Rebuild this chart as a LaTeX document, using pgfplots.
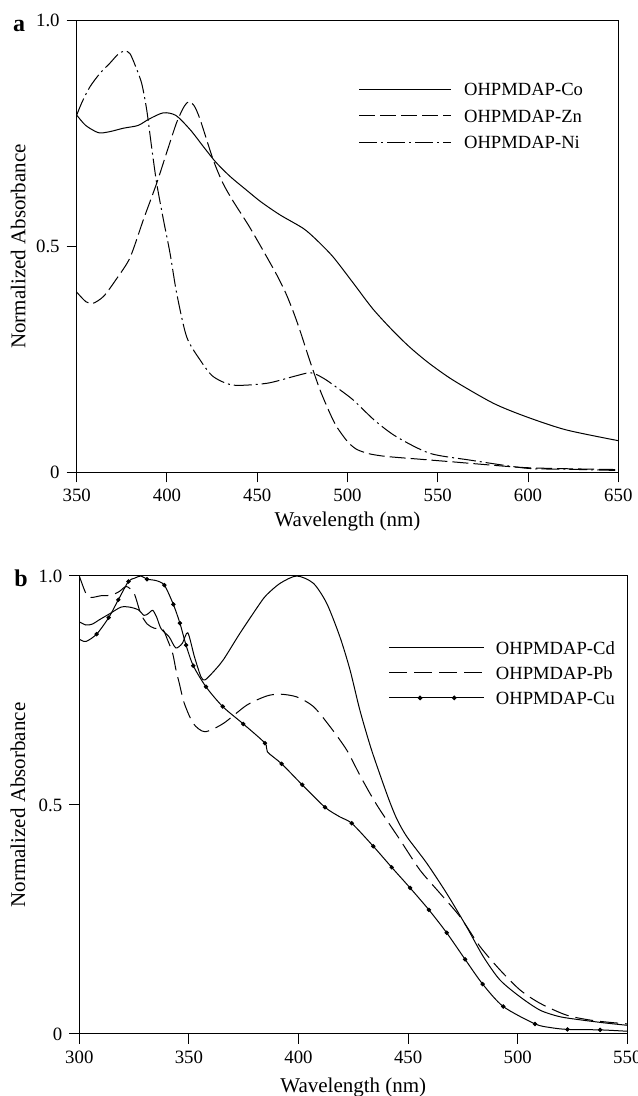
\documentclass[border=0pt]{standalone}
\usepackage{fontspec}
\setmainfont{Liberation Serif}
\usepackage{pgfplots}
\pgfplotsset{compat=1.18}
\begin{document}
\begin{tikzpicture}
\path[use as bounding box] (0pt,0pt) rectangle (318.5pt,548pt);
\pgfplotsset{
 myax/.style={
  scale only axis,
  axis line style={black, line width=0.5pt},
  every tick/.style={black, line width=0.5pt},
  tick align=outside,
  tick pos=left,
  major tick length=5pt,
  ymin=0, ymax=1,
  ytick={0,0.5,1}, yticklabels={0,0.5,1.0},
  /pgf/number format/assume math mode=true,
  tick label style={font=\fontsize{9.4}{10}\selectfont},
  label style={font=\fontsize{10.5}{12}\selectfont},
  legend style={draw=none, fill=none, font=\fontsize{9.3}{11}\selectfont, inner sep=0pt,
     row sep=6.8pt, column sep=6.2pt, nodes={inner sep=0pt, text height=6.5pt, text depth=0pt}},
  legend cell align=left,
 },
 crv/.style={black, line width=0.5pt, smooth, tension=0.45, mark=none},
}
\begin{axis}[myax, name=A, at={(38.35pt,311.85pt)}, anchor=south west,
  width=270.8pt, height=225.8pt, xmin=350, xmax=650, xtick={350,400,...,650},
  xlabel={Wavelength (nm)}, ylabel={Normalized Absorbance},
  xlabel style={at={(axis description cs:0.5,-0.108)}, anchor=center},
  ylabel style={at={(axis description cs:-0.108,0.5)}, anchor=center},
  legend style={at={(axis description cs:0.52,0.864)}, anchor=north west},
  legend image code/.code={\draw[#1] (0pt,0pt) -- (46pt,0pt);}]
\addplot[crv] coordinates {(350,0.791)(355,0.768)(362,0.752)(368,0.754)(376,0.762)(384,0.768)(390,0.782)(398,0.796)(405,0.790)(413,0.758)(420,0.722)(427,0.687)(435,0.655)(444,0.625)(452,0.599)(462.6,0.570)(475.5,0.540)(483,0.514)(492,0.477)(503,0.420)(514,0.362)(525,0.314)(534.5,0.277)(545,0.242)(558.5,0.204)(580.7,0.153)(599,0.123)(621,0.094)(650,0.070)};
\addlegendentry{OHPMDAP-Co}
\addplot[crv, dash pattern=on 8pt off 2.5pt] coordinates {(350,0.399)(355,0.378)(359,0.374)(365,0.390)(372,0.428)(379.5,0.475)(387,0.560)(394.3,0.640)(400,0.710)(405.4,0.775)(409.5,0.810)(412.2,0.821)(415,0.812)(418.3,0.782)(425.6,0.692)(431,0.640)(436.7,0.600)(445,0.548)(451.7,0.502)(460.7,0.438)(466,0.395)(470.5,0.350)(474,0.310)(477.4,0.268)(481,0.225)(485,0.180)(490,0.133)(494,0.101)(500,0.068)(505,0.051)(512,0.041)(521.6,0.035)(540,0.029)(558.5,0.023)(595.4,0.011)(620,0.008)(650,0.006)};
\addlegendentry{OHPMDAP-Zn}
\addplot[crv, dash pattern=on 9pt off 2pt on 1pt off 2pt] coordinates {(350,0.791)(353,0.82)(357.4,0.854)(363,0.884)(368.4,0.906)(373,0.926)(376.7,0.933)(379.5,0.927)(382.3,0.902)(386,0.861)(388.8,0.802)(391.5,0.72)(394.3,0.640)(398,0.56)(401.7,0.485)(405.4,0.396)(410.9,0.300)(418.3,0.249)(425.6,0.212)(436.7,0.193)(455.2,0.197)(470,0.212)(478,0.220)(482,0.218)(488,0.205)(495,0.185)(503.2,0.160)(515,0.115)(527,0.079)(545.6,0.042)(567.8,0.027)(599,0.009)(620,0.007)(650,0.004)};
\addlegendentry{OHPMDAP-Ni}
\end{axis}
\begin{axis}[myax, name=B, at={(39.65pt,31pt)}, anchor=south west,
  width=274pt, height=229pt, xmin=300, xmax=550, xtick={300,350,...,550},
  xlabel={Wavelength (nm)}, ylabel={Normalized Absorbance},
  xlabel style={at={(axis description cs:0.5,-0.116)}, anchor=center},
  ylabel style={at={(axis description cs:-0.112,0.5)}, anchor=center},
  legend style={at={(axis description cs:0.564,0.858)}, anchor=north west, row sep=6pt, column sep=5.6pt},
  legend image code/.code={\draw[#1] (0pt,0pt) -- (47.5pt,0pt);}]
\addplot[crv] coordinates {(300,0.900)(303,0.893)(306,0.895)(309,0.904)(314,0.918)(319,0.932)(323,0.932)(327,0.926)(329.5,0.914)(331.5,0.918)(333.5,0.925)(335.3,0.910)(337.3,0.885)(341,0.867)(344,0.843)(347,0.853)(349.5,0.876)(352.5,0.824)(355.5,0.780)(357.3,0.773)(361,0.790)(365.7,0.817)(373.3,0.875)(382.4,0.940)(385.5,0.959)(391.6,0.984)(399.2,1.0)(406.8,0.984)(412.9,0.940)(418.9,0.867)(423.5,0.795)(428,0.707)(433,0.625)(438,0.555)(441.7,0.506)(445,0.468)(449.4,0.431)(458.5,0.373)(467.6,0.307)(476.7,0.234)(484.3,0.169)(491.9,0.118)(501.1,0.081)(510.2,0.052)(519,0.038)(528.4,0.031)(540,0.024)(550,0.019)};
\addlegendentry{OHPMDAP-Cd}
\addplot[crv, dash pattern=on 9pt off 3.5pt] coordinates {(300,1.0)(303,0.962)(305.3,0.953)(310,0.957)(314.5,0.958)(318.2,0.966)(321.5,0.977)(325,0.962)(328,0.918)(331,0.895)(334.2,0.886)(338,0.884)(340.3,0.860)(342.6,0.831)(344.1,0.795)(345.6,0.766)(347.9,0.722)(352,0.678)(357.3,0.660)(365.7,0.678)(376.4,0.718)(385.5,0.738)(391.6,0.742)(399.2,0.736)(406.8,0.715)(414.4,0.671)(422,0.620)(428,0.565)(433,0.522)(437.2,0.489)(446.3,0.424)(455.4,0.358)(464.6,0.307)(473.7,0.256)(482.8,0.191)(491.9,0.140)(501.1,0.096)(510.2,0.067)(522.4,0.041)(535,0.029)(550,0.022)};
\addlegendentry{OHPMDAP-Pb}
\addplot[crv, legend image code/.code={\draw[black, line width=0.5pt] (0pt,0pt) -- (47.5pt,0pt); \fill[black] (15.4pt,0pt) circle (0.9pt); \fill[black] (32.5pt,0pt) circle (0.9pt);}] coordinates {(300,0.862)(303,0.857)(307.9,0.873)(313.4,0.909)(317.8,0.948)(322.4,0.988)(325.1,0.995)(328.1,1.0)(330.9,0.993)(335,0.990)(338.8,0.980)(342.9,0.938)(345.9,0.897)(348.7,0.849)(352,0.804)(357.8,0.758)(365.4,0.715)(374.8,0.677)(384.7,0.635)(385.8,0.616)(392.3,0.590)(401.7,0.544)(412.1,0.495)(418.9,0.474)(424.3,0.460)(434.1,0.410)(442.5,0.364)(450.9,0.319)(459.5,0.271)(467.6,0.221)(476,0.163)(484,0.109)(493.4,0.060)(507.9,0.022)(515,0.014)(522.7,0.010)(537.6,0.009)(550,0.006)};
\addlegendentry{OHPMDAP-Cu}
\addplot[only marks, mark=*, mark size=0.9pt, black, forget plot] coordinates {(307.9,0.873)(313.4,0.909)(317.8,0.948)(322.4,0.988)(330.9,0.993)(338.8,0.980)(342.9,0.938)(345.9,0.897)(348.7,0.849)(352,0.804)(357.8,0.758)(365.4,0.715)(374.8,0.677)(384.7,0.635)(392.3,0.590)(401.7,0.544)(412.1,0.495)(424.3,0.460)(434.1,0.410)(442.5,0.364)(450.9,0.319)(459.5,0.271)(467.6,0.221)(476,0.163)(484,0.109)(493.4,0.060)(507.9,0.022)(522.7,0.010)(537.6,0.009)};
\end{axis}
\node[anchor=base, font=\bfseries\fontsize{12}{12}\selectfont] at (9.5pt,532pt) {a};
\node[anchor=base, font=\bfseries\fontsize{12}{12}\selectfont] at (10.5pt,254.5pt) {b};
\end{tikzpicture}
\end{document}
